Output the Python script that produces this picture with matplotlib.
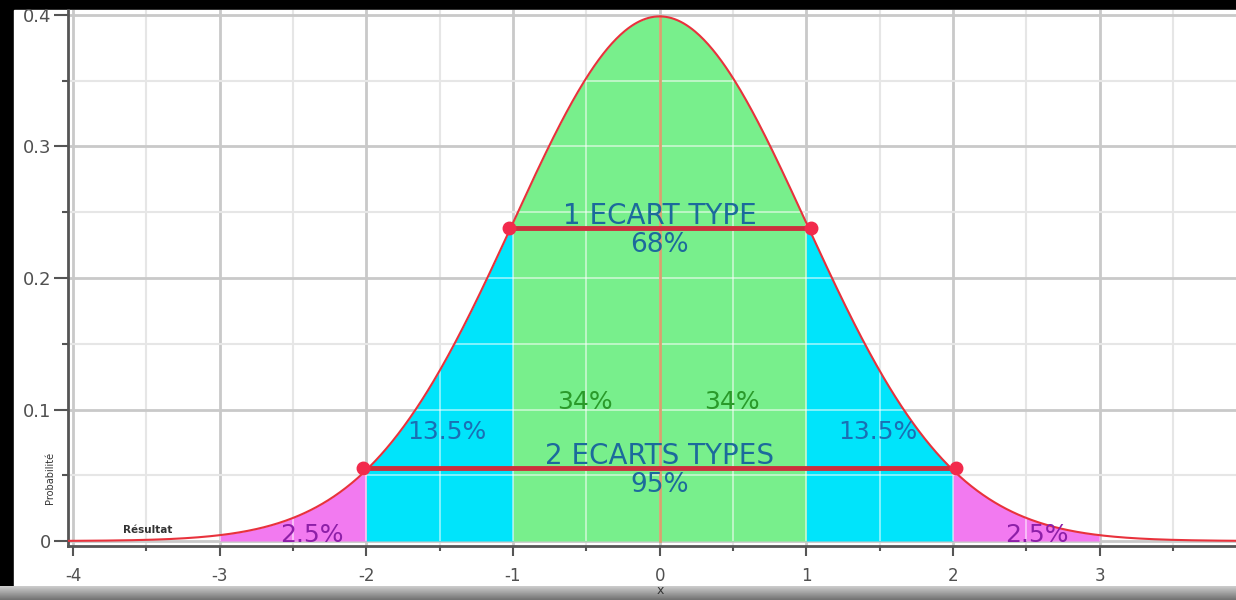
import numpy as np
import matplotlib.pyplot as plt
from matplotlib.patches import Rectangle

plt.rcParams['axes.unicode_minus'] = False

# distribution shown (standard normal)
mu = 0.0
sigma = 1.0

# shaded bands: (start, end, colour)
band_starts = [-3, -2, -1, 1, 2]
band_ends = [-2, -1, 1, 2, 3]
band_colors = ['#f27af0', '#00e4fb', '#78ef8c', '#00e4fb', '#f27af0']

# percentage labels
pct_labels = ['2.5%', '13.5%', '34%', '34%', '13.5%', '2.5%']
pct_x = [-2.37, -1.45, -0.51, 0.49, 1.49, 2.57]
pct_y = [0.0046, 0.083, 0.1057, 0.1057, 0.083, 0.0046]
pct_colors = ['#8d1fa8', '#1a6fb4', '#2a9a2a', '#2a9a2a', '#1a6fb4', '#8d1fa8']

# standard deviation markers
sd_names = ['1 ECART TYPE', '2 ECARTS TYPES']
sd_pcts = ['68%', '95%']
sd_half_width = [1.03, 2.02]
sd_level = [0.238, 0.0555]

x_ticks = [-4, -3, -2, -1, 0, 1, 2, 3]
y_ticks = [0, 0.1, 0.2, 0.3, 0.4]
y_tick_labels = ['0', '0.1', '0.2', '0.3', '0.4']

W, H = 1236, 600
fig = plt.figure(figsize=(W / 100, H / 100), dpi=100, facecolor='black')
# white screenshot area
fig.patches.append(Rectangle((14 / W, 13 / H), 1 - 14 / W, (587 - 10) / H,
                             transform=fig.transFigure, color='white', zorder=-5))

ax = fig.add_axes([68 / W, 1 - 546 / H, (W - 68) / W, (546 - 10) / H])
ax.set_facecolor('white')
ax.set_xlim(-4.034, 3.93)
ax.set_ylim(-0.0038, 0.4038)

xs = np.linspace(-4.034, 3.93, 800)
pdf = np.exp(-0.5 * ((xs - mu) / sigma) ** 2) / (sigma * np.sqrt(2 * np.pi))

ax.set_axisbelow(True)
ax.set_xticks(x_ticks)
ax.set_xticks(np.arange(-3.5, 4, 1.0), minor=True)
ax.set_yticks(y_ticks)
ax.set_yticklabels(y_tick_labels)
ax.set_yticks(np.arange(0.05, 0.4, 0.1), minor=True)
ax.grid(which='major', color='#c9c9c9', lw=2)
ax.grid(which='minor', color='#e6e6e6', lw=1.5)

grid_x = np.arange(-4, 4, 0.5)
grid_y = np.arange(0.05, 0.41, 0.05)
for s, e, c in zip(band_starts, band_ends, band_colors):
    m = (xs >= s) & (xs <= e)
    xb = np.concatenate([[s], xs[m], [e]])
    yb = np.exp(-0.5 * ((xb - mu) / sigma) ** 2) / (sigma * np.sqrt(2 * np.pi))
    poly = ax.fill_between(xb, 0, yb, color=c, lw=0, zorder=1)
    path = poly.get_paths()[0]
    vl = ax.vlines(grid_x, 0, 0.41, color='white', alpha=0.55, lw=1.3, zorder=1.5)
    hl = ax.hlines(grid_y, -4.1, 4, color='white', alpha=0.55, lw=1.3, zorder=1.5)
    vl.set_clip_path(path, ax.transData)
    hl.set_clip_path(path, ax.transData)

ax.plot([0, 0], [0, pdf.max()], color='#dca070', lw=2, zorder=2)
ax.plot(xs, pdf, color='#e8323c', lw=1.5, zorder=3)

for name, pct, hw, lev in zip(sd_names, sd_pcts, sd_half_width, sd_level):
    ax.plot([-hw, hw], [lev, lev], color='#cc2f3c', lw=3.5, zorder=4)
    ax.plot([-hw, hw], [lev, lev], 'o', color='#f22a4c', ms=9, zorder=5)
    ax.text(0, lev + 0.0095, name, ha='center', va='center', fontsize=20,
            family='DejaVu Sans', color='#1c6a9c', zorder=6)
    ax.text(0, lev - 0.0128, pct, ha='center', va='center', fontsize=19,
            family='DejaVu Sans', color='#1c6a9c', zorder=6)

for lab, px, py, pc in zip(pct_labels, pct_x, pct_y, pct_colors):
    ax.text(px, py, lab, ha='center', va='center', fontsize=18,
            family='DejaVu Sans', color=pc, zorder=6)

for side in ['top', 'right']:
    ax.spines[side].set_visible(False)
for side in ['left', 'bottom']:
    ax.spines[side].set_color('#555555')
    ax.spines[side].set_linewidth(2)
ax.tick_params(axis='y', which='major', length=10, width=1.5, color='#555555',
               labelsize=13, labelcolor='#505050', pad=2)
ax.tick_params(axis='y', which='minor', length=4.5, width=1.5, color='#555555')
ax.tick_params(axis='x', which='major', length=7, width=1.5, color='#555555',
               labelsize=12, labelcolor='#505050', pad=8)
ax.tick_params(axis='x', which='minor', length=3.5, width=1.5, color='#555555')

fig.text(148 / W, 1 - 530 / H, 'Résultat', ha='center', va='center',
         fontsize=7.5, fontweight='bold', color='#333333')
fig.text(50 / W, 1 - 478 / H, 'Probabilité', ha='center', va='center',
         fontsize=7, rotation=90, color='#333333')

# grey bar at the bottom of the screenshot
bar = fig.add_axes([0, 0, 1, 14 / H])
grad = np.linspace(0.8, 0.45, 20).reshape(-1, 1)
bar.imshow(grad, aspect='auto', cmap='gray', vmin=0, vmax=1, extent=[0, 1, 0, 1])
bar.text(0.534, 0.7, 'x', ha='center', va='center', fontsize=9, color='#333333',
         clip_on=False)
bar.set_axis_off()

fig.savefig('out.png', dpi=100, facecolor='black')
